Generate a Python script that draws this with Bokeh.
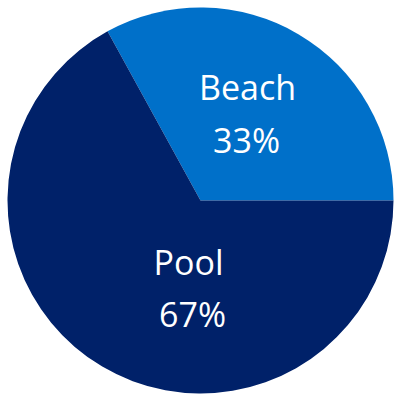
import math
from bokeh.plotting import figure
from bokeh.models import ColumnDataSource, Range1d
from bokeh.core.properties import value
from bokeh.embed import file_html
from bokeh.resources import INLINE

categories = ["Beach", "Pool"]
shares = [33, 67]
pct_labels = ["33%", "67%"]
colors = ["#0070C9", "#002169"]

total = sum(shares)
starts, ends = [], []
acc = 0.0
for s in shares:
    starts.append(acc / total * 2 * math.pi)
    acc += s
    ends.append(acc / total * 2 * math.pi)

src = ColumnDataSource(dict(cat=categories, val=shares, start=starts, end=ends, color=colors))

W = 400
R_PX = 193.0
half = (W / 2) / R_PX
p = figure(width=W, height=W, output_backend="svg", toolbar_location=None,
           x_range=Range1d(-half, half), y_range=Range1d(-half, half), min_border=0)
p.wedge(x=0, y=0, radius=1, start_angle="start", end_angle="end",
        fill_color="color", line_color=None, source=src)

def px(xp, yp):
    return ((xp - 200) / R_PX, (200 - yp) / R_PX)

# label anchors (layout, in pixel coordinates of the picture)
name_pos = [px(247, 86), px(188, 261)]
pct_pos = [px(246, 139), px(192, 313)]
lab = ColumnDataSource(dict(
    x=[q[0] for q in name_pos] + [q[0] for q in pct_pos],
    y=[q[1] for q in name_pos] + [q[1] for q in pct_pos],
    t=categories + pct_labels))
p.text(x="x", y="y", text="t", source=lab, text_color="white",
       text_font=value("Open Sans"), text_font_size="34px",
       text_align="center", text_baseline="middle")

p.axis.visible = False
p.xgrid.visible = False
p.ygrid.visible = False
p.outline_line_color = None
p.background_fill_color = "white"
p.border_fill_color = "white"

open("out.html", "w").write(file_html(p, INLINE))
